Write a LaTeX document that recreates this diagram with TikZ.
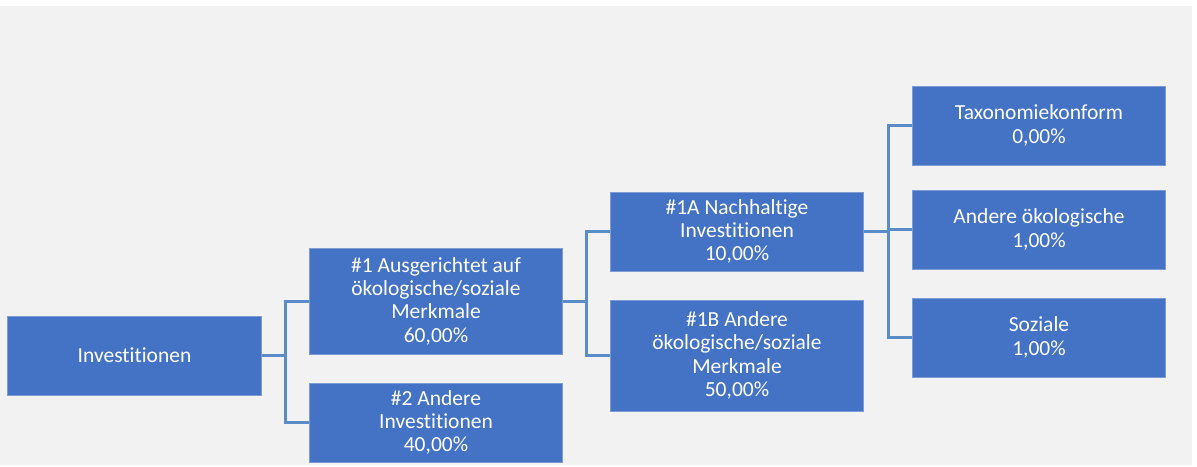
\documentclass[tikz,border=0pt]{standalone}
\usepackage{fontspec}
\setmainfont{Carlito}[Ligatures=NoCommon]
\definecolor{boxblue}{HTML}{4472C4}
\definecolor{boxedge}{HTML}{7D9CD6}
\definecolor{linkblue}{HTML}{5A8CC8}
\definecolor{backgray}{HTML}{F2F2F2}
\begin{document}
\begin{tikzpicture}[x=1pt,y=-1pt,
		box/.style={fill=boxblue,draw=boxedge,line width=0.6pt,text=white,align=center,inner sep=0pt,minimum width=253.5pt,minimum height=79pt,font=\fontsize{21.5}{23.3}\selectfont},
		link/.style={draw=linkblue,line width=3pt}]
		\useasboundingbox (0,0) rectangle (1197,466);
		\fill [white] (0,0) rectangle (1197,466);
		\fill [backgray] (0,6) rectangle (1192,465);
		\node [box] (inv) at (134.5,355.5) {Investitionen};
		\node [box,minimum height=106pt] (n1) at (436,301) {\#1 Ausgerichtet auf\\ökologische/soziale\\Merkmale\\60,00\%};
		\node [box] (n2) at (436,422.5) {\#2 Andere\\Investitionen\\40,00\%};
		\node [box] (n1a) at (737,231.5) {\#1A Nachhaltige\\Investitionen\\10,00\%};
		\node [box,minimum height=111pt] (n1b) at (737,355.5) {\#1B Andere\\ökologische/soziale\\Merkmale\\50,00\%};
		\node [box] (tax) at (1039,125.5) {Taxonomiekonform\\0,00\%};
		\node [box] (oek) at (1039,229.5) {Andere ökologische\\1,00\%};
		\node [box] (soz) at (1039,337.5) {Soziale\\1,00\%};
		\draw [link] (inv.east) -- ++(24,0) |- (n1.west);
		\draw [link] (inv.east) -- ++(24,0) |- (n2.west);
		\draw [link] (n1.east) -- ++(23.5,0) |- (n1a.west);
		\draw [link] (n1.east) -- ++(23.5,0) |- (n1b.west);
		\draw [link] (n1a.east) -- ++(24,0) |- (tax.west);
		\draw [link] (n1a.east) -- ++(24,0) |- (oek.west);
		\draw [link] (n1a.east) -- ++(24,0) |- (soz.west);
	\end{tikzpicture}
\end{document}
